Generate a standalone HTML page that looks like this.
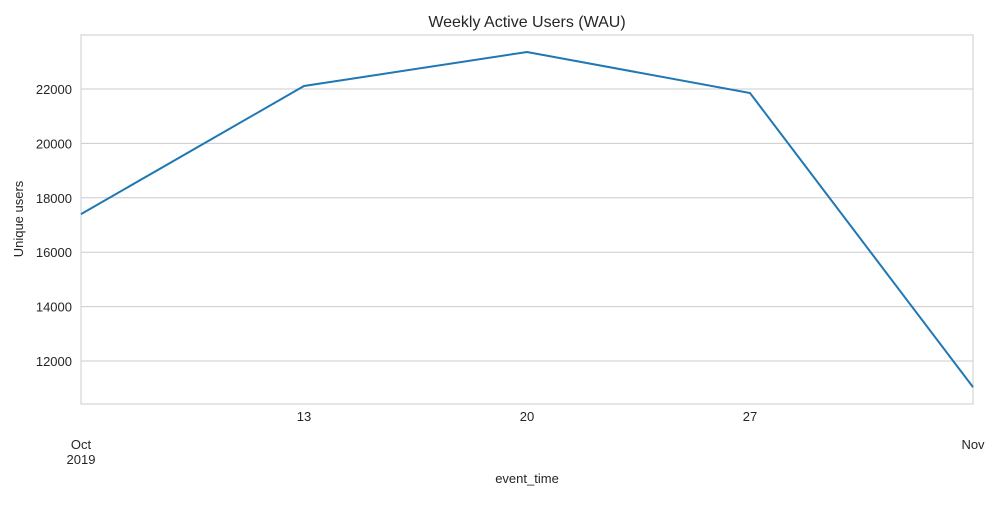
<!DOCTYPE html>
<html><head><meta charset="utf-8"><style>
body{margin:0;background:#fff;font-family:"Liberation Sans",sans-serif}
svg text{font-family:"Liberation Sans",sans-serif;fill:#262626}
</style></head><body>
<svg width="1000" height="500" id="chart">
<text x="527" y="27" font-size="16" text-anchor="middle">Weekly Active Users (WAU)</text>
<text x="527" y="483" font-size="13" text-anchor="middle">event_time</text>
<text transform="translate(23,219) rotate(-90)" font-size="13" text-anchor="middle">Unique users</text>
<g id="grid"></g>
<rect x="81" y="35" width="892" height="369" fill="none" stroke="#cccccc" stroke-width="1"/>
<g id="marks"></g>
</svg>
<script>
const weeks=[0,1,2,3,4];
const users=[17400,22110,23360,21850,11040];
const yTicks=[12000,14000,16000,18000,20000,22000];
const xTickWeeks=[0,1,2,3,4];
const xTickLabels=["Oct","13","20","27","Nov"];
const xTickSub=["2019","","","",""];
const X0=81,X1=973,Y0=404,Y1=35,yMin=10419,yMax=23985;
const xs=w=>X0+(X1-X0)*w/4;
const ys=v=>Y0-(Y0-Y1)*(v-yMin)/(yMax-yMin);
const NS="http://www.w3.org/2000/svg";
const grid=document.getElementById('grid'),marks=document.getElementById('marks');
function mk(t,a,p){const e=document.createElementNS(NS,t);for(const k in a)e.setAttribute(k,a[k]);p.appendChild(e);return e;}
yTicks.forEach(v=>{
const l=mk('line',{x1:X0,x2:X1,y1:ys(v),y2:ys(v),stroke:'#cccccc'},grid);


const t=mk('text',{x:72,y:ys(v)+5,'font-size':13,'text-anchor':'end'},grid);
t.textContent=v;


});
xTickWeeks.forEach((w,i)=>{
const t=mk('text',{x:xs(w),y:421,'font-size':13,'text-anchor':'middle'},grid);
t.textContent=xTickLabels[i];
if(i===0||i===4)t.setAttribute('y',449);


if(xTickSub[i]){const s=mk('text',{x:xs(w),y:464,'font-size':13,'text-anchor':'middle'},grid);s.textContent=xTickSub[i];

}
});
const p=mk('polyline',{points:weeks.map((w,i)=>xs(w)+','+ys(users[i])).join(' '),fill:'none',stroke:'#1f77b4','stroke-width':2},marks);


</script>
</body></html>
